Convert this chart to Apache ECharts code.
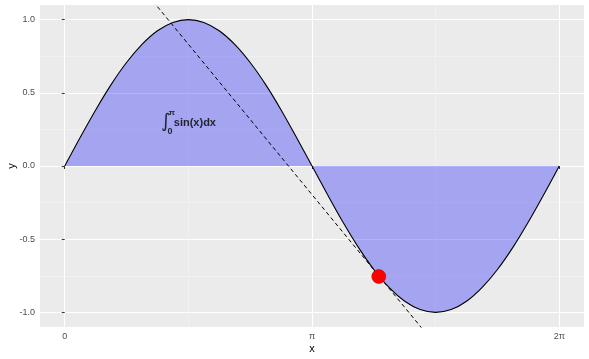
<!DOCTYPE html>
<html><head><meta charset="utf-8">
<script src="https://cdn.jsdelivr.net/npm/echarts@6/dist/echarts.min.js"></script>
<style>html,body{margin:0;padding:0;background:#fff}#c{width:589px;height:359px}</style>
</head><body><div id="c"></div>
<script>
// sine curve samples
const curveX = [0, 0.196, 0.393, 0.589, 0.785, 0.982, 1.178, 1.374, 1.571, 1.767, 1.963, 2.160, 2.356, 2.553, 2.749, 2.945, 3.142, 3.338, 3.534, 3.731, 3.927, 4.123, 4.320, 4.516, 4.712, 4.909, 5.105, 5.301, 5.498, 5.694, 5.890, 6.087, 6.283];
const curveY = [0, 0.195, 0.383, 0.556, 0.707, 0.831, 0.924, 0.981, 1.000, 0.981, 0.924, 0.831, 0.707, 0.556, 0.383, 0.195, 0, -0.195, -0.383, -0.556, -0.707, -0.831, -0.924, -0.981, -1.000, -0.981, -0.924, -0.831, -0.707, -0.556, -0.383, -0.195, 0];
// tangent line endpoints (clipped by panel)
const tangentX = [0.5, 5.5];
const tangentY = [1.532, -1.738];
// highlighted point
const pointX = [3.99];
const pointY = [-0.755];
// annotation anchor
const annoX = [1.59];
const annoY = [0.293];
// ticks
const xTicks = [0, Math.PI, 2 * Math.PI];
const xTickLabels = ['0', 'π', '2π'];
const xMinor = [Math.PI / 2, 3 * Math.PI / 2];
const yTicks = [-1, -0.5, 0, 0.5, 1];
const yTickLabels = ['-1.0', '-0.5', '0.0', '0.5', '1.0'];
const yMinor = [-0.75, -0.25, 0.25, 0.75];

const xMin = -0.3142, xMax = 6.5973, yMin = -1.1, yMax = 1.1;
const font = '"Liberation Sans", Arial, sans-serif';

const chart = echarts.init(document.getElementById('c'));
const curve = curveX.map((x, i) => [x, curveY[i]]);
const tangent = tangentX.map((x, i) => [x, tangentY[i]]);
const pts = pointX.map((x, i) => [x, pointY[i]]);
const a = [annoX[0], annoY[0]];

function labelFor(v, ticks, labels) {
  for (let i = 0; i < ticks.length; i++) if (Math.abs(v - ticks[i]) < 1e-6) return labels[i];
  return '';
}

chart.setOption({
  animation: false,
  backgroundColor: '#ffffff',
  grid: { left: 40, top: 5, right: 5, bottom: 32, show: true, backgroundColor: '#EBEBEB', borderWidth: 0,
    containLabel: false, outerBoundsMode: 'none' },
  xAxis: [{
    type: 'value', min: xMin, max: xMax,
    name: 'x', nameLocation: 'middle', nameGap: 16, nameMoveOverlap: false,
    nameTextStyle: { color: '#000', fontSize: 11, fontFamily: font },
    axisLine: { show: false },
    axisTick: { show: true, length: 3, lineStyle: { color: '#333', width: 1 }, customValues: xTicks },
    axisLabel: { customValues: xTicks, color: '#4D4D4D', fontSize: 9, fontFamily: font, margin: 5,
      formatter: v => labelFor(v, xTicks, xTickLabels) },
    splitLine: { show: true, lineStyle: { color: '#fff', width: 1.1 } }
  }, {
    type: 'value', min: xMin, max: xMax, position: 'bottom',
    axisLine: { show: false },
    axisTick: { show: false, customValues: xMinor },
    axisLabel: { show: false, customValues: xMinor },
    splitLine: { show: true, lineStyle: { color: '#F5F5F5', width: 0.6 } }
  }],
  yAxis: [{
    type: 'value', min: yMin, max: yMax,
    name: 'y', nameLocation: 'middle', nameGap: 23, nameRotate: 90, nameMoveOverlap: false,
    nameTextStyle: { color: '#000', fontSize: 11, fontFamily: font },
    axisLine: { show: false },
    axisTick: { show: true, length: 3, lineStyle: { color: '#333', width: 1 }, customValues: yTicks },
    axisLabel: { customValues: yTicks, color: '#4D4D4D', fontSize: 9, fontFamily: font, margin: 5,
      formatter: v => labelFor(v, yTicks, yTickLabels) },
    splitLine: { show: true, lineStyle: { color: '#fff', width: 1.1 } }
  }, {
    type: 'value', min: yMin, max: yMax, position: 'left',
    axisLine: { show: false },
    axisTick: { show: false, customValues: yMinor },
    axisLabel: { show: false, customValues: yMinor },
    splitLine: { show: true, lineStyle: { color: '#F5F5F5', width: 0.6 } }
  }],
  series: [{
    type: 'line', data: curve, smooth: 0.35, symbol: 'none', z: 2,
    lineStyle: { color: '#000', width: 1.1 },
    areaStyle: { color: 'rgba(0,0,255,0.3)', opacity: 1, origin: 0 }
  }, {
    type: 'line', data: tangent, symbol: 'none', clip: true, z: 3,
    lineStyle: { color: '#000', width: 1, type: [4, 3] }
  }, {
    type: 'scatter', data: pts, symbol: 'circle', symbolSize: 14, z: 4,
    itemStyle: { color: '#FF0000', opacity: 1, borderColor: '#B00000', borderWidth: 0.5 }
  }, {
    type: 'scatter', symbolSize: 0, z: 5, silent: true,
    label: { show: true, position: 'inside', color: '#000', fontFamily: font },
    data: [
      { value: a, label: { formatter: 'sin(x)dx', fontSize: 11, fontWeight: 'bold', offset: [5, 0] } },
      { value: a, label: { formatter: '∫', fontSize: 19, fontFamily: '"DejaVu Sans", sans-serif', offset: [-24, -1] } },
      { value: a, label: { formatter: '0', fontSize: 9, fontWeight: 'bold', offset: [-20, 8] } },
      { value: a, label: { formatter: 'π', fontSize: 8, fontWeight: 'bold', offset: [-18, -10] } }
    ]
  }]
});
</script></body></html>
